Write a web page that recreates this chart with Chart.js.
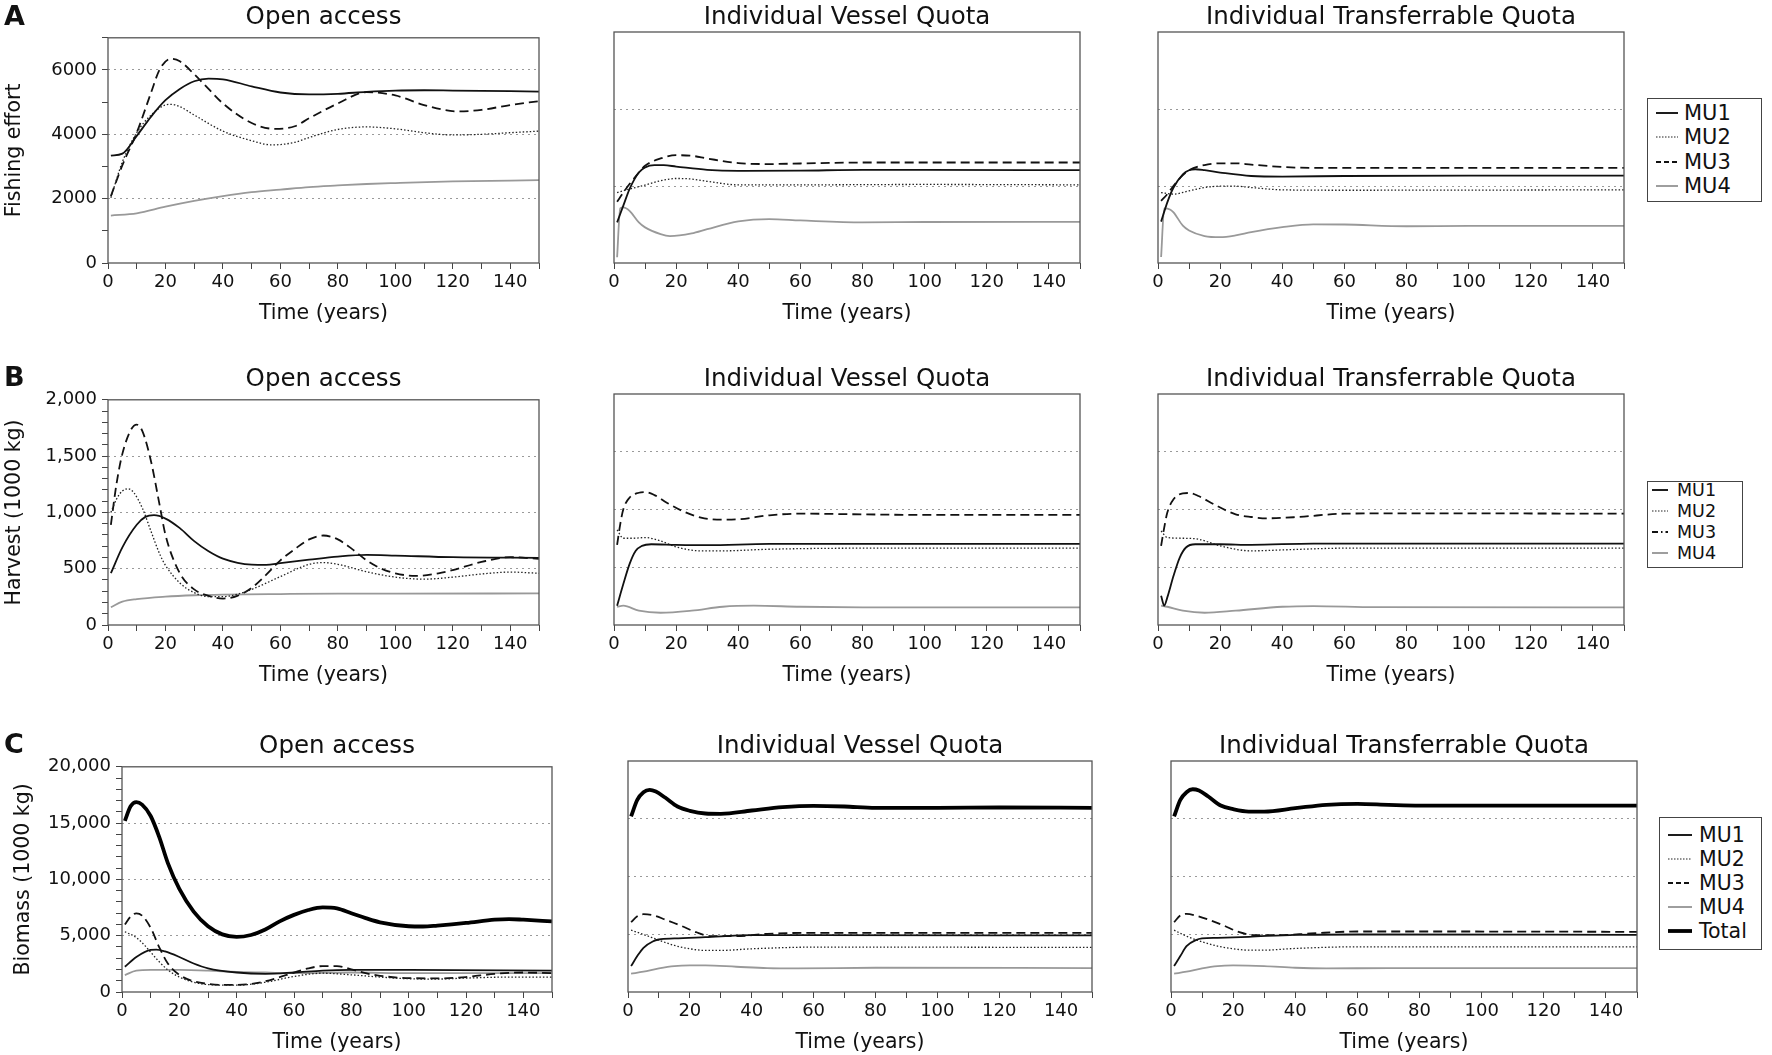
<!DOCTYPE html>
<html>
<head>
<meta charset="utf-8">
<script src="https://cdn.jsdelivr.net/npm/chart.js@4.4.1/dist/chart.umd.min.js"></script>
<style>
  body { margin: 0; width: 1772px; height: 1055px; background: #fff; overflow: hidden; position: relative; font-family: "DejaVu Sans", sans-serif; color: #111; }
  canvas { position: absolute; }
  .title { position: absolute; font-size: 24.5px; transform: translate(-50%, -50%); white-space: nowrap; }
  .letter { position: absolute; font-size: 27px; font-weight: bold; transform: translateY(-50%); }
  .legend { position: absolute; border: 1.5px solid #444; box-sizing: border-box; }
  .legend span { position: absolute; transform: translateY(-50%); white-space: nowrap; }
  .legend svg { position: absolute; overflow: visible; }
</style>
</head>
<body>
<script>
// ---- Data: [year, value] ----
const seriesNames = ['MU1', 'MU2', 'MU3', 'MU4'];
const biomassNames = ['MU1', 'MU2', 'MU3', 'MU4', 'Total'];
const panelTitles = ['Open access', 'Individual Vessel Quota', 'Individual Transferrable Quota'];

// A: fishing effort
const oaEffortMU1 = [[1,3340],[5,3400],[10,3950],[15,4550],[20,5060],[25,5410],[30,5650],[35,5730],[40,5710],[50,5490],[60,5300],[70,5240],[80,5260],[90,5320],[100,5360],[110,5370],[120,5360],[130,5350],[150,5330]];
const oaEffortMU2 = [[1,2030],[5,3140],[10,4050],[15,4600],[20,4910],[22,4930],[25,4860],[30,4600],[40,4100],[50,3800],[57,3670],[65,3750],[70,3900],[80,4150],[90,4230],[100,4170],[110,4050],[120,3980],[130,4000],[140,4050],[150,4100]];
const oaEffortMU3 = [[1,2080],[5,3040],[10,4050],[15,5300],[18,6020],[22,6350],[25,6270],[30,5870],[35,5410],[40,4960],[50,4350],[58,4170],[65,4250],[70,4500],[80,4960],[90,5310],[100,5210],[110,4910],[122,4710],[130,4760],[140,4910],[150,5030]];
const oaEffortMU4 = [[1,1475],[10,1545],[20,1750],[30,1930],[40,2080],[50,2200],[60,2280],[70,2360],[80,2410],[90,2455],[100,2485],[120,2535],[150,2575]];

const ivqEffortMU1 = [[1,1055],[3,1490],[5,1920],[8,2350],[10,2480],[13,2540],[16,2540],[20,2505],[30,2420],[40,2395],[60,2400],[80,2420],[100,2420],[150,2410]];
const ivqEffortMU2 = [[1,1830],[5,1920],[10,2025],[15,2135],[20,2195],[25,2180],[30,2120],[40,2030],[60,2030],[100,2040],[150,2030]];
const ivqEffortMU3 = [[1,1590],[3,1830],[5,2050],[8,2350],[10,2525],[15,2715],[20,2800],[25,2785],[30,2715],[40,2595],[50,2570],[60,2585],[80,2610],[150,2610]];
const ivqEffortMU4 = [[1,150],[2,1420],[3,1445],[5,1355],[8,1055],[10,925],[15,750],[18,700],[25,770],[30,880],[40,1080],[50,1140],[60,1105],[80,1055],[100,1065],[150,1070]];

const itqEffortMU1 = [[1,1075],[3,1575],[5,1960],[8,2305],[10,2410],[12,2435],[15,2410],[20,2350],[30,2260],[40,2245],[60,2260],[100,2270],[150,2270]];
const itqEffortMU2 = [[1,1830],[5,1790],[10,1875],[15,1960],[20,1995],[25,1995],[30,1960],[40,1900],[60,1890],[150,1900]];
const itqEffortMU3 = [[1,1615],[3,1790],[5,2005],[8,2280],[10,2410],[15,2545],[20,2590],[25,2590],[30,2555],[40,2495],[50,2470],[150,2470]];
const itqEffortMU4 = [[1,155],[2,1420],[4,1385],[5,1315],[8,970],[10,845],[15,700],[20,670],[25,715],[30,800],[40,930],[50,1005],[60,1000],[80,955],[100,965],[150,965]];

// B: harvest (1000 kg)
const oaHarvestMU1 = [[1,460],[5,690],[10,890],[13,960],[16,975],[20,945],[25,860],[30,745],[35,655],[40,590],[50,536],[55,534],[60,550],[70,580],[80,608],[90,623],[100,617],[120,602],[150,597]];
const oaHarvestMU2 = [[1,1000],[3,1120],[5,1190],[7,1210],[9,1175],[12,1035],[15,830],[18,630],[20,530],[25,373],[30,287],[35,252],[40,252],[45,273],[50,316],[60,430],[70,539],[75,554],[80,539],[90,473],[100,425],[110,407],[120,425],[130,453],[140,470],[150,459]];
const oaHarvestMU3 = [[1,890],[3,1260],[5,1520],[8,1735],[10,1780],[12,1720],[15,1450],[18,1060],[20,800],[25,460],[30,316],[35,258],[40,235],[45,258],[50,330],[55,445],[60,574],[65,674],[70,760],[75,795],[80,760],[85,674],[90,574],[95,502],[100,459],[107,436],[115,459],[120,488],[130,560],[140,602],[150,588]];
const oaHarvestMU4 = [[1,158],[5,207],[10,230],[20,252],[30,264],[40,270],[60,275],[80,278],[100,278],[150,281]];

const ivqHarvestMU1 = [[1,167],[3,354],[5,527],[7,642],[9,685],[12,699],[20,694],[30,691],[50,702],[80,702],[150,702]];
const ivqHarvestMU2 = [[1,823],[3,751],[6,751],[10,757],[15,728],[20,676],[28,642],[35,642],[50,656],[80,665],[150,665]];
const ivqHarvestMU3 = [[1,694],[2,872],[3,1002],[5,1102],[8,1145],[10,1151],[13,1125],[17,1059],[22,987],[28,930],[35,912],[40,915],[50,950],[60,964],[80,958],[100,953],[150,953]];
const ivqHarvestMU4 = [[1,158],[3,167],[8,124],[15,106],[25,124],[35,158],[45,167],[60,158],[80,153],[150,153]];

const itqHarvestMU1 = [[1,253],[2,167],[3,239],[5,426],[7,584],[9,671],[12,699],[20,699],[30,694],[50,705],[80,705],[150,705]];
const itqHarvestMU2 = [[1,814],[3,757],[8,751],[13,743],[20,685],[30,642],[40,650],[60,665],[150,665]];
const itqHarvestMU3 = [[1,685],[2,843],[3,973],[5,1088],[8,1140],[10,1143],[13,1117],[18,1045],[25,958],[30,935],[35,924],[45,935],[60,964],[80,967],[150,964]];
const itqHarvestMU4 = [[1,167],[3,158],[8,124],[15,106],[25,124],[40,158],[50,164],[70,155],[150,153]];

// C: biomass (1000 kg)
const oaBiomassMU1 = [[1,2245],[5,3110],[10,3740],[12,3770],[15,3600],[20,3110],[25,2530],[30,2100],[40,1730],[50,1610],[60,1730],[70,1900],[80,1960],[100,1960],[150,1900]];
const oaBiomassMU2 = [[1,5350],[5,4835],[8,4115],[10,3540],[13,2680],[16,1960],[20,1325],[25,865],[30,660],[40,605],[50,865],[60,1380],[70,1670],[80,1525],[90,1325],[100,1180],[110,1150],[120,1235],[135,1325],[150,1325]];
const oaBiomassMU3 = [[1,5990],[3,6700],[5,6990],[7,6790],[10,5700],[13,3970],[16,2530],[20,1525],[25,950],[30,720],[35,635],[40,635],[45,720],[50,950],[55,1325],[60,1730],[65,2100],[70,2300],[75,2300],[80,2015],[85,1670],[90,1440],[100,1235],[110,1210],[120,1325],[130,1610],[140,1730],[150,1670]];
const oaBiomassMU4 = [[1,1500],[5,1900],[10,1960],[20,1960],[30,1900],[40,1785],[50,1730],[60,1670],[80,1730],[100,1670],[150,1670]];
const oaBiomassTotal = [[1,15200],[3,16490],[5,16865],[7,16635],[10,15630],[13,13760],[16,11450],[20,9150],[25,7140],[30,5840],[35,5120],[40,4890],[45,5065],[50,5555],[55,6275],[60,6850],[65,7280],[70,7510],[75,7425],[80,6995],[85,6560],[90,6190],[100,5840],[105,5815],[110,5900],[120,6130],[130,6420],[135,6475],[140,6420],[150,6275]];

const ivqBiomassMU1 = [[1,2245],[3,3110],[5,3830],[8,4375],[10,4545],[15,4635],[25,4750],[40,4920],[60,4920],[150,4895]];
const ivqBiomassMU2 = [[1,5350],[5,4980],[10,4490],[15,4030],[20,3740],[25,3600],[30,3600],[40,3740],[60,3885],[80,3885],[150,3855]];
const ivqBiomassMU3 = [[1,6045],[3,6560],[5,6735],[8,6650],[12,6275],[17,5755],[22,5180],[27,4835],[35,4835],[45,5035],[60,5125],[80,5125],[150,5125]];
const ivqBiomassMU4 = [[1,1585],[5,1755],[10,2045],[15,2245],[20,2300],[25,2300],[35,2185],[45,2070],[55,2045],[80,2100],[150,2070]];
const ivqBiomassTotal = [[1,15200],[3,16635],[5,17300],[7,17500],[9,17355],[12,16835],[16,16060],[20,15685],[25,15455],[30,15425],[40,15715],[50,16000],[60,16115],[70,16060],[80,15945],[100,15945],[120,15975],[150,15945]];

const itqBiomassMU1 = [[1,2245],[3,3110],[5,3970],[8,4490],[10,4635],[15,4690],[25,4780],[40,4950],[60,4980],[150,4950]];
const itqBiomassMU2 = [[1,5350],[5,4835],[10,4345],[15,3970],[20,3740],[25,3625],[30,3625],[40,3770],[60,3915],[150,3915]];
const itqBiomassMU3 = [[1,6045],[3,6620],[5,6765],[8,6620],[12,6275],[17,5755],[22,5180],[27,4920],[35,4920],[45,5065],[60,5240],[80,5240],[150,5210]];
const itqBiomassMU4 = [[1,1585],[5,1755],[10,2045],[15,2245],[20,2300],[30,2245],[40,2100],[50,2045],[70,2070],[150,2070]];
const itqBiomassTotal = [[1,15200],[3,16635],[5,17300],[7,17555],[9,17440],[12,16925],[16,16145],[20,15830],[25,15625],[30,15625],[40,15915],[50,16205],[60,16290],[70,16205],[80,16145],[100,16145],[150,16145]];

// ---- Layout ----
Chart.defaults.font.family = '"DejaVu Sans", sans-serif';
Chart.defaults.color = '#111';

const ROWS = { A: { top: 32, bottom: 263 }, B: { top: 394, bottom: 625 }, C: { top: 761, bottom: 992 } };
const COLS_AB = [[108, 539], [614, 1080], [1158, 1624]];
const COLS_C = [[122, 552], [628, 1092], [1171, 1637]];

const STYLES = {
  MU1: { borderColor: '#111', borderWidth: 1.8, borderDash: [] },
  MU2: { borderColor: '#222', borderWidth: 1.3, borderDash: [1.5, 2] },
  MU3: { borderColor: '#111', borderWidth: 1.8, borderDash: [9, 5] },
  MU4: { borderColor: '#999', borderWidth: 1.8, borderDash: [] },
  Total: { borderColor: '#000', borderWidth: 3.8, borderDash: [] }
};

const framePlugin = {
  id: 'frame',
  afterDraw(chart) {
    const { ctx, chartArea: a } = chart;
    ctx.save();
    ctx.strokeStyle = '#555';
    ctx.lineWidth = 1.3;
    ctx.strokeRect(a.left, a.top, a.right - a.left, a.bottom - a.top);
    ctx.restore();
  }
};

const fmt = v => v.toLocaleString('en-US');

function makePanel(rowKey, col, names, seriesList, y) {
  const [l, r] = (rowKey === 'C' ? COLS_C : COLS_AB)[col];
  const { top, bottom } = ROWS[rowKey];
  const yW = col === 0 ? l : 12, padT = 10, padR = 10, xH = 72;
  const cv = document.createElement('canvas');
  cv.width = yW + (r - l) + padR;
  cv.height = padT + (bottom - top) + xH;
  cv.style.left = (l - yW) + 'px';
  cv.style.top = (top - padT) + 'px';
  document.body.appendChild(cv);

  const title = document.createElement('div');
  title.className = 'title';
  title.textContent = panelTitles[col];
  title.style.left = ((l + r) / 2) + 'px';
  title.style.top = (top - 17) + 'px';
  document.body.appendChild(title);

  const showY = col === 0;
  new Chart(cv, {
    type: 'line',
    data: {
      datasets: seriesList.map((pts, i) => Object.assign({
        label: names[i],
        data: pts.map(p => ({ x: p[0], y: p[1] })),
        fill: false, pointRadius: 0, cubicInterpolationMode: 'monotone'
      }, STYLES[names[i]]))
    },
    options: {
      responsive: false, animation: false, devicePixelRatio: 1,
      layout: { padding: { left: 0, top: padT, right: padR, bottom: 0 } },
      plugins: { legend: { display: false }, tooltip: { enabled: false } },
      scales: {
        x: {
          type: 'linear', min: 0, max: 150,
          afterFit: s => { s.height = xH; },
          ticks: { stepSize: 10, autoSkip: false, maxRotation: 0, padding: 3, font: { size: 18 },
            callback: v => v % 20 === 0 ? String(v) : '' },
          grid: { drawOnChartArea: false, drawTicks: true, tickLength: 6, tickColor: '#444' },
          border: { display: false },
          title: { display: true, text: 'Time (years)', font: { size: 20.5 }, padding: { top: 0, bottom: 9 } }
        },
        y: {
          type: 'linear', min: 0, max: y.max,
          afterFit: s => { s.width = yW; },
          ticks: { display: showY, stepSize: showY ? y.minor : y.grid, autoSkip: false, padding: 5, font: { size: 18 },
            callback: v => v % y.label === 0 ? y.fmt(v) : '' },
          grid: { drawOnChartArea: true, drawTicks: showY, tickLength: 6, tickColor: '#444', lineWidth: 1,
            color: c => (c.tick && c.tick.value % y.grid === 0 && c.tick.value > 0 && c.tick.value < y.max) ? '#9a9a9a' : 'rgba(0,0,0,0)' },
          border: { display: false, dash: [2, 4] },
          title: { display: showY, text: y.title, font: { size: 20.5 }, padding: { top: y.titlePad, bottom: 0 } }
        }
      }
    },
    plugins: [framePlugin]
  });
}

function makeLetter(text, top) {
  const d = document.createElement('div');
  d.className = 'letter';
  d.textContent = text;
  d.style.left = '4px';
  d.style.top = top + 'px';
  document.body.appendChild(d);
}

const SAMPLE_DASH = { MU1: '', MU2: '1.5,1.5', MU3: '5,3', MU4: '', Total: '' };
function makeLegend(names, box, ys, sx0, sx1, tx, fontSize, mu3Dash) {
  const d = document.createElement('div');
  d.className = 'legend';
  Object.assign(d.style, { left: box[0] + 'px', top: box[1] + 'px', width: (box[2] - box[0]) + 'px', height: (box[3] - box[1]) + 'px' });
  names.forEach((n, i) => {
    const yy = ys[i] - box[1];
    const st = STYLES[n];
    const dash = n === 'MU3' && mu3Dash ? mu3Dash : SAMPLE_DASH[n];
    const svg = document.createElementNS('http://www.w3.org/2000/svg', 'svg');
    svg.setAttribute('width', sx1 - sx0); svg.setAttribute('height', 8);
    svg.style.left = (sx0 - box[0]) + 'px'; svg.style.top = (yy - 4) + 'px';
    svg.innerHTML = '<line x1="0" y1="4" x2="' + (sx1 - sx0) + '" y2="4" stroke="' + st.borderColor +
      '" stroke-width="' + (n === 'Total' ? 3.8 : n === 'MU2' ? 1.2 : 1.9) + '" stroke-dasharray="' + dash + '"/>';
    d.appendChild(svg);
    const s = document.createElement('span');
    s.textContent = n;
    s.style.left = (tx - box[0]) + 'px'; s.style.top = yy + 'px'; s.style.fontSize = fontSize + 'px';
    d.appendChild(s);
  });
  document.body.appendChild(d);
}

// Row A
const effortY = { max: 7000, minor: 1000, label: 2000, grid: 2000, fmt: v => String(v), title: 'Fishing effort', titlePad: 2 };
const quotaEffortY = Object.assign({}, effortY, { max: 6000 });
makePanel('A', 0, seriesNames, [oaEffortMU1, oaEffortMU2, oaEffortMU3, oaEffortMU4], effortY);
makePanel('A', 1, seriesNames, [ivqEffortMU1, ivqEffortMU2, ivqEffortMU3, ivqEffortMU4], quotaEffortY);
makePanel('A', 2, seriesNames, [itqEffortMU1, itqEffortMU2, itqEffortMU3, itqEffortMU4], quotaEffortY);

// Row B
const harvestY = { max: 2000, minor: 100, label: 500, grid: 500, fmt: fmt, title: 'Harvest (1000 kg)', titlePad: 2 };
makePanel('B', 0, seriesNames, [oaHarvestMU1, oaHarvestMU2, oaHarvestMU3, oaHarvestMU4], harvestY);
makePanel('B', 1, seriesNames, [ivqHarvestMU1, ivqHarvestMU2, ivqHarvestMU3, ivqHarvestMU4], harvestY);
makePanel('B', 2, seriesNames, [itqHarvestMU1, itqHarvestMU2, itqHarvestMU3, itqHarvestMU4], harvestY);

// Row C
const biomassY = { max: 20000, minor: 1000, label: 5000, grid: 5000, fmt: fmt, title: 'Biomass (1000 kg)', titlePad: 11 };
makePanel('C', 0, biomassNames, [oaBiomassMU1, oaBiomassMU2, oaBiomassMU3, oaBiomassMU4, oaBiomassTotal], biomassY);
makePanel('C', 1, biomassNames, [ivqBiomassMU1, ivqBiomassMU2, ivqBiomassMU3, ivqBiomassMU4, ivqBiomassTotal], biomassY);
makePanel('C', 2, biomassNames, [itqBiomassMU1, itqBiomassMU2, itqBiomassMU3, itqBiomassMU4, itqBiomassTotal], biomassY);

makeLetter('A', 15);
makeLetter('B', 376);
makeLetter('C', 743);

makeLegend(seriesNames, [1647, 98, 1762, 202], [112, 136, 161, 185], 1655, 1677, 1683, 21);
makeLegend(seriesNames, [1647, 481, 1743, 568], [489, 510, 531, 552], 1651, 1667, 1676, 17.5, '6,3,1.5,3');
makeLegend(biomassNames, [1659, 817, 1762, 950], [834, 858, 882, 906, 930], 1667, 1691, 1698, 20.5);
</script>
</body>
</html>
